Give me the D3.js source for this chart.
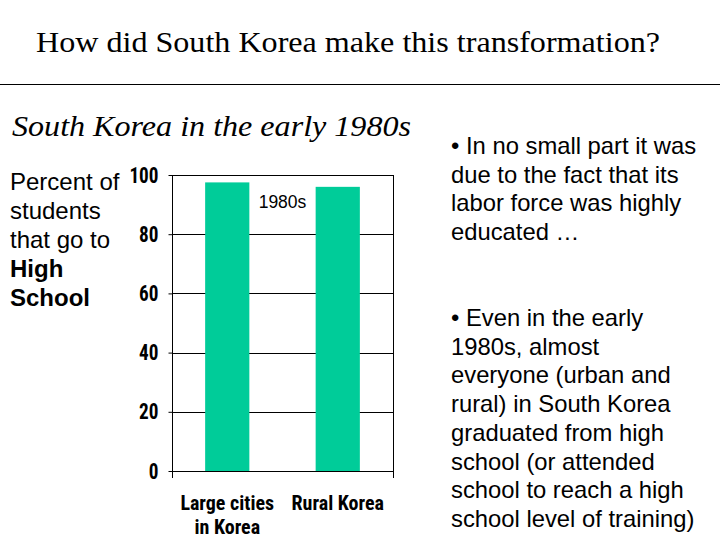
<!DOCTYPE html>
<html>
<head>
<meta charset="utf-8">
<script src="https://cdn.jsdelivr.net/npm/d3@7"></script>
<style>
  html, body { margin: 0; padding: 0; background: #fff; }
  svg { display: block; }
</style>
</head>
<body>
<svg id="chart" width="720" height="540"></svg>
<script>
// ---- data ----
const categories = ["Large cities\nin Korea", "Rural Korea"];
const values = [97.5, 96];
const seriesName = "1980s";
const yTicks = [0, 20, 40, 60, 80, 100];

const titleText = "How did South Korea make this transformation?";
const subtitleText = "South Korea in the early 1980s";
const yLabelLines = [
  {t: "Percent of", b: false}, {t: "students", b: false}, {t: "that go to", b: false},
  {t: "High", b: true}, {t: "School", b: true}
];
const bullet1 = ["• In no small part it was", "due to the fact that its", "labor force was highly", "educated …"];
const bullet2 = ["• Even in the early", "1980s, almost", "everyone (urban and", "rural) in South Korea",
  "graduated from high", "school (or attended", "school to reach a high", "school level of training)"];

const svg = d3.select("#chart");
const serif = "'Liberation Serif'";
const sans = "'Liberation Sans'";
const narrow = "'Roboto Condensed'";

// Title
svg.append("text").attr("x", 36).attr("y", 52)
  .attr("font-family", serif).attr("font-size", 30)
  .attr("textLength", 624).attr("lengthAdjust", "spacingAndGlyphs")
  .text(titleText);
svg.append("line").attr("x1", 0).attr("x2", 720).attr("y1", 84.5).attr("y2", 84.5)
  .attr("stroke", "#000").attr("stroke-width", 1.2);

// Subtitle
svg.append("text").attr("x", 12).attr("y", 136)
  .attr("font-family", serif).attr("font-style", "italic").attr("font-size", 29)
  .attr("textLength", 399).attr("lengthAdjust", "spacingAndGlyphs")
  .text(subtitleText);

// Left label
svg.append("g").selectAll("text").data(yLabelLines).join("text")
  .attr("x", 10).attr("y", (d, i) => 190 + i * 29)
  .attr("font-family", sans).attr("font-size", 24)
  .attr("font-weight", d => d.b ? "bold" : "normal")
  .text(d => d.t);

// Right bullets
svg.append("g").selectAll("text").data(bullet1).join("text")
  .attr("x", 451).attr("y", (d, i) => 154 + i * 28.5)
  .attr("font-family", sans).attr("font-size", 23.8)
  .text(d => d);
svg.append("g").selectAll("text").data(bullet2).join("text")
  .attr("x", 451).attr("y", (d, i) => 326 + i * 28.7)
  .attr("font-family", sans).attr("font-size", 23.8)
  .text(d => d);

// Chart
const x0 = 172, x1 = 393, yTop = 175, yBot = 471;
const x = d3.scaleBand().domain(categories).range([x0, x1]).paddingInner(0.6).paddingOuter(0.3);
const y = d3.scaleLinear().domain([0, 100]).range([yBot, yTop]);

const g = svg.append("g");

// gridlines
g.append("g").selectAll("line").data(yTicks.filter(t => t > 0)).join("line")
  .attr("x1", x0).attr("x2", x1)
  .attr("y1", d => Math.round(y(d)) + 0.5).attr("y2", d => Math.round(y(d)) + 0.5)
  .attr("stroke", "#000").attr("stroke-width", 1);
// right border
g.append("line").attr("x1", x1 + 0.5).attr("x2", x1 + 0.5).attr("y1", yTop).attr("y2", yBot + 7)
  .attr("stroke", "#000");

// bars
g.append("g").selectAll("rect").data(values).join("rect")
  .attr("x", (d, i) => x(categories[i]))
  .attr("width", x.bandwidth())
  .attr("y", d => y(d))
  .attr("height", d => y(0) - y(d))
  .attr("fill", "#00cc99");

// y axis
const yAxis = d3.axisLeft(y).tickValues(yTicks).tickSize(4).tickPadding(10);
const ya = g.append("g").attr("transform", `translate(${x0 + 0.5},0)`).call(yAxis);
ya.select(".domain").remove();
ya.selectAll(".tick line").attr("stroke", "#000");
ya.selectAll(".tick text")
  .attr("font-family", narrow).attr("font-weight", "bold").attr("font-size", 22)
  .attr("fill", "#000")
  .attr("textLength", d => String(d).length * 9.7)
  .attr("lengthAdjust", "spacingAndGlyphs");
g.append("line").attr("x1", x0 + 0.5).attr("x2", x0 + 0.5).attr("y1", yTop).attr("y2", yBot + 7)
  .attr("stroke", "#000");
// zero line
g.append("line").attr("x1", x0).attr("x2", x1).attr("y1", Math.round(y(0)) + 0.5).attr("y2", Math.round(y(0)) + 0.5)
  .attr("stroke", "#000").attr("stroke-width", 1.2);

// x labels
const xl = g.append("g").selectAll("text").data(categories).join("text")
  .attr("text-anchor", "middle")
  .attr("font-family", narrow).attr("font-weight", "bold").attr("font-size", 20);
xl.each(function(d) {
  const lines = d.split("\n");
  d3.select(this).selectAll("tspan").data(lines).join("tspan")
    .attr("x", x(d) + x.bandwidth() / 2)
    .attr("y", (l, i) => 510 + i * 24)
    .text(l => l);
});

// series label
g.append("text").attr("x", (x0 + x1) / 2).attr("y", 208).attr("text-anchor", "middle")
  .attr("font-family", sans).attr("font-size", 17.5).text(seriesName);
</script>
</body>
</html>
